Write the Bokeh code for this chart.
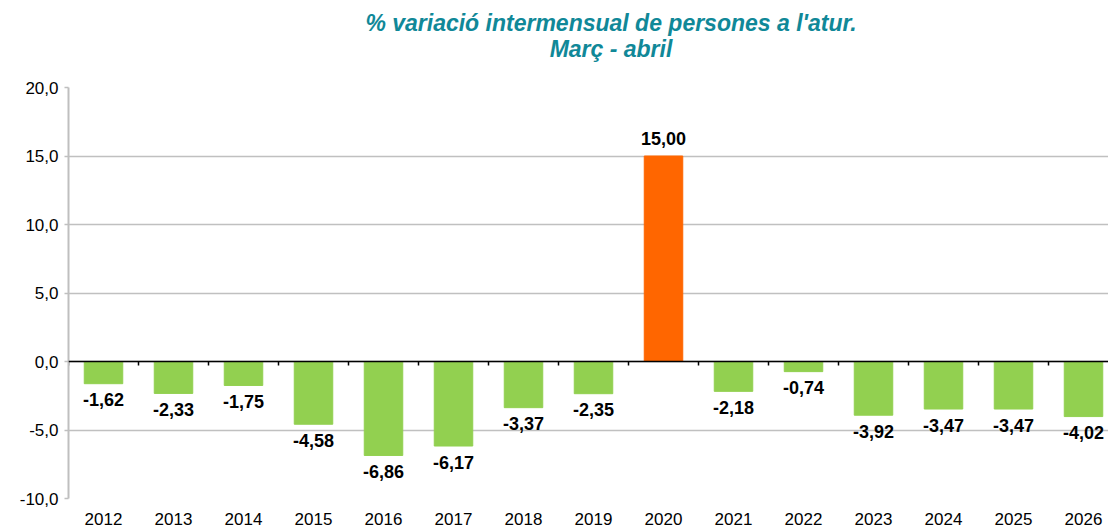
from bokeh.plotting import figure
from bokeh.models import (Range1d, FixedTicker, CustomJSTickFormatter, Span, Div,
                          ColumnDataSource)
from bokeh.layouts import column
from bokeh.embed import file_html
from bokeh.resources import INLINE
from bokeh.core.properties import value

# ---- data ----
years = ["2012", "2013", "2014", "2015", "2016", "2017", "2018", "2019",
         "2020", "2021", "2022", "2023", "2024", "2025", "2026"]
variation = [-1.62, -2.33, -1.75, -4.58, -6.86, -6.17, -3.37, -2.35,
             15.00, -2.18, -0.74, -3.92, -3.47, -3.47, -4.02]
y_ticks = [-10, -5, 0, 5, 10, 15, 20]
title_line1 = "% variació intermensual de persones a l'atur."
title_line2 = "Març - abril"
highlight_year = "2020"

GREEN = "#92D050"
ORANGE = "#FF6600"
FONT = "Liberation Sans"

xs = list(range(len(years)))
colors = [ORANGE if y == highlight_year else GREEN for y in years]
labels = [f"{v:.2f}".replace(".", ",") for v in variation]
offsets = [16 if v < 0 else -18 for v in variation]

src = ColumnDataSource(dict(x=xs, top=variation, color=colors, label=labels,
                            yoff=offsets))

p = figure(width=1108, height=457, output_backend="svg", toolbar_location=None,
           x_range=Range1d(-0.5, 14.357), y_range=Range1d(y_ticks[0], y_ticks[-1]),
           min_border_left=68, min_border_right=0, min_border_top=17,
           min_border_bottom=29)
p.outline_line_color = None
p.background_fill_color = "white"
p.border_fill_color = "white"

# grid
p.xgrid.grid_line_color = None
p.ygrid.grid_line_color = "#C0C0C0"
p.ygrid.grid_line_width = 1.5
p.ygrid.ticker = FixedTicker(ticks=y_ticks)

# y axis
p.yaxis.ticker = FixedTicker(ticks=y_ticks)
p.yaxis.formatter = CustomJSTickFormatter(code="return tick.toFixed(1).replace('.', ',');")
p.yaxis.axis_line_color = "#BFBFBF"
p.yaxis.axis_line_width = 2
p.yaxis.major_tick_line_color = "#BFBFBF"
p.yaxis.major_tick_line_width = 1.5
p.yaxis.major_tick_out = 4
p.yaxis.major_tick_in = 0
p.yaxis.minor_tick_line_color = None
p.yaxis.major_label_text_font = FONT
p.yaxis.major_label_text_font_size = "17px"
p.yaxis.major_label_text_color = "black"
p.yaxis.major_label_standoff = 6

# x axis (labels only, at bottom)
p.xaxis.ticker = FixedTicker(ticks=xs)
p.xaxis.major_label_overrides = {i: y for i, y in zip(xs, years)}
p.xaxis.axis_line_color = None
p.xaxis.major_tick_line_color = None
p.xaxis.minor_tick_line_color = None
p.xaxis.major_label_text_font = FONT
p.xaxis.major_label_text_font_size = "17px"
p.xaxis.major_label_text_color = "black"
p.xaxis.major_label_standoff = 8

# bars
p.vbar(x="x", top="top", bottom=0, width=0.55, color="color", source=src)

# zero line with category-boundary ticks
p.add_layout(Span(location=0, dimension="width", line_color="black", line_width=1.5))
bounds = [i - 0.5 for i in range(len(years) + 1)]
p.segment(x0=bounds, y0=[0] * len(bounds), x1=bounds, y1=[-0.3] * len(bounds),
          line_color="black", line_width=1.5)

# value labels
p.text(x="x", y="top", text="label", source=src, text_align="center",
       text_baseline="alphabetic", y_offset="yoff",
       text_font=value(FONT), text_font_size="18px", text_font_style="bold",
       text_color="black")

title = Div(
    text=(f'<div style="width:1108px;box-sizing:border-box;padding-left:104px;'
          f'padding-top:5px;text-align:center;font-family:\'{FONT}\';font-weight:bold;'
          f'font-style:italic;font-size:23px;line-height:26px;color:#108898;">'
          f'{title_line1}<br>{title_line2}</div>'),
    width=1108, height=60)

layout = column(title, p, spacing=0)
open("out.html", "w").write(file_html(layout, INLINE))
